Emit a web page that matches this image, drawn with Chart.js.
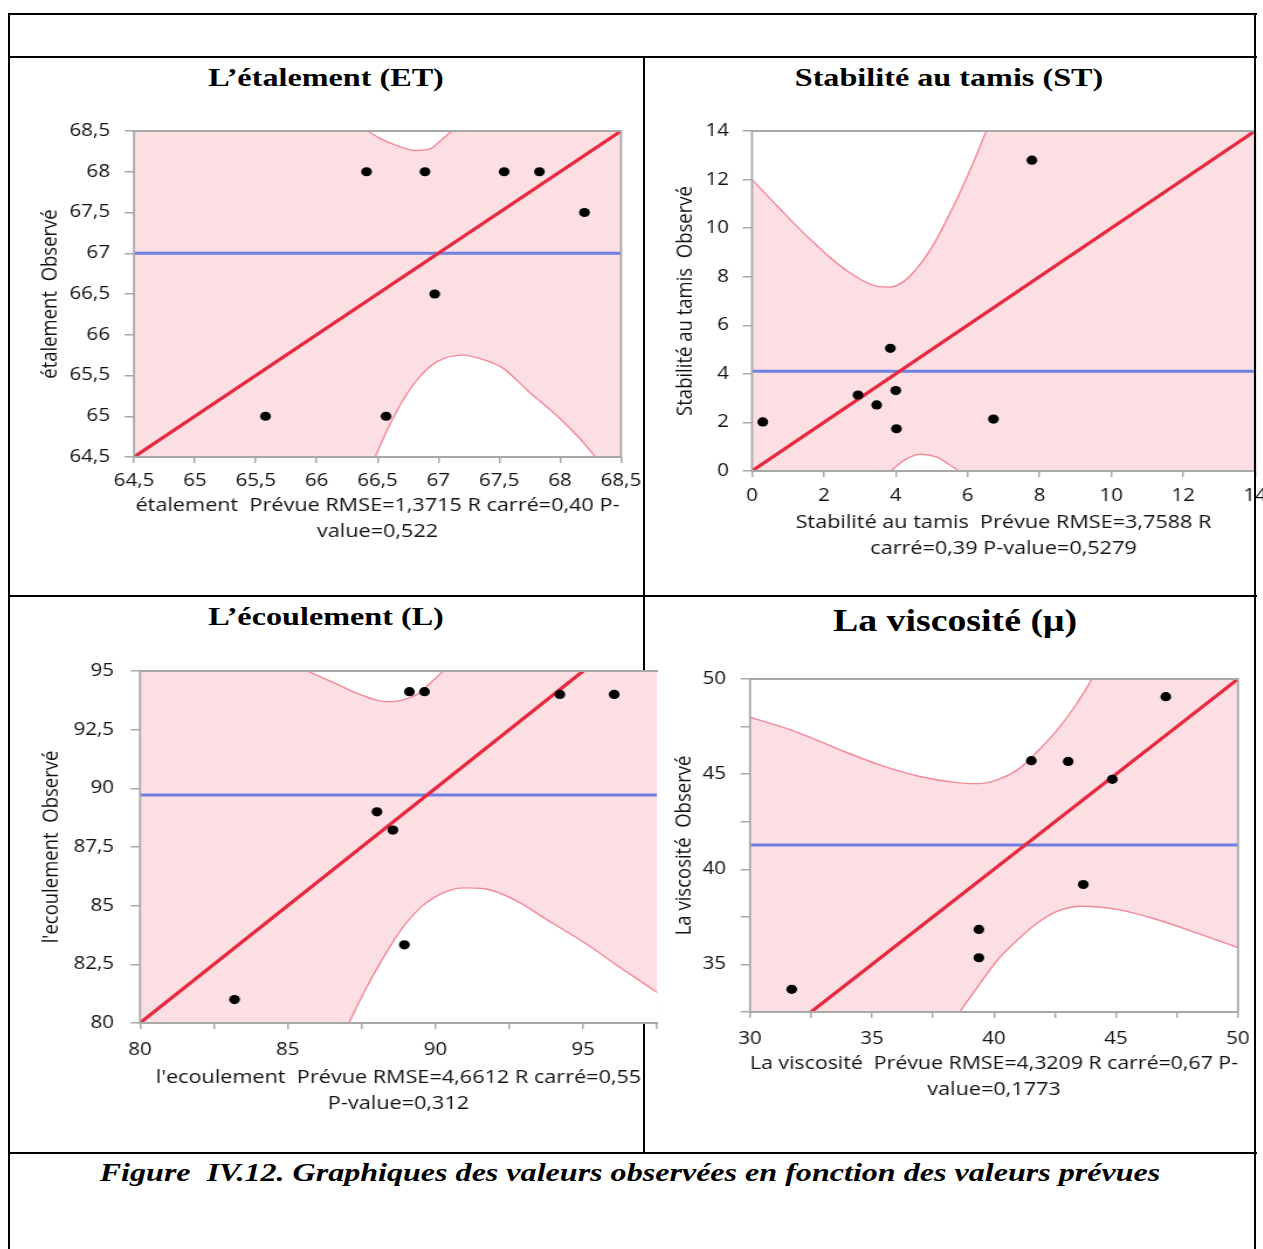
<!DOCTYPE html>
<html><head><meta charset="utf-8">
<script src="https://cdn.jsdelivr.net/npm/chart.js@4.4.1/dist/chart.umd.min.js"></script>
<style>
html,body{margin:0;padding:0;background:#fff;}
body{width:1263px;height:1249px;overflow:hidden;position:relative;}
.ln{position:absolute;background:#000;z-index:1;}
.ln.front{z-index:3;}
.ttl{position:absolute;font-family:"Liberation Serif","Times New Roman",serif;font-weight:bold;white-space:nowrap;color:#000;text-align:center;transform-origin:center center;z-index:2;}
.wrap{position:absolute;z-index:2;}
.wrap canvas{display:block;transform-origin:0 0;}
</style></head>
<body>
<div class="ln" style="left:8px;top:13px;width:1249px;height:2px"></div>
<div class="ln" style="left:8px;top:56px;width:1249px;height:2px"></div>
<div class="ln" style="left:8px;top:595px;width:1249px;height:2px"></div>
<div class="ln" style="left:8px;top:1152px;width:1249px;height:2px"></div>
<div class="ln" style="left:8px;top:13px;width:2px;height:1236px"></div>
<div class="ln" style="left:643px;top:57px;width:2px;height:1096px"></div>
<div class="ln front" style="left:1254px;top:13px;width:2px;height:1236px"></div>

<div class="ttl" style="left:26px;top:57px;width:600px;height:42px;line-height:42px;font-size:26px;transform:scaleX(1.238)">L’étalement (ET)</div>
<div class="ttl" style="left:649px;top:57px;width:600px;height:42px;line-height:42px;font-size:26px;transform:scaleX(1.238)">Stabilité au tamis (ST)</div>
<div class="ttl" style="left:26px;top:596px;width:600px;height:42px;line-height:42px;font-size:26px;transform:scaleX(1.238)">L’écoulement (L)</div>
<div class="ttl" style="left:655px;top:599px;width:600px;height:44px;line-height:44px;font-size:31px;transform:scaleX(1.22)">La viscosité (μ)</div>
<div class="ttl" style="left:30px;top:1152px;width:1200px;height:42px;line-height:42px;font-size:25px;font-style:italic;transform:scaleX(1.283)">Figure&nbsp; IV.12. Graphiques des valeurs observées en fonction des valeurs prévues</div>

<div class="wrap" id="w1"><canvas id="c1"></canvas></div>
<div class="wrap" id="w2"><canvas id="c2"></canvas></div>
<div class="wrap" id="w3"><canvas id="c3"></canvas></div>
<div class="wrap" id="w4"><canvas id="c4"></canvas></div>

<script>
// ---------- DATA ----------
// L'étalement (ET)
const etPredicted = [65.58, 66.57, 66.41, 66.89, 66.97, 67.54, 67.83, 68.20];
const etObserved  = [65.0, 65.0, 68.0, 68.0, 66.5, 68.0, 68.0, 67.5];
const etMean = [67.0];
const etFitX = [64.5, 68.5];
const etFitY = [64.5, 68.5];
const etUpperX = [66.42, 66.52, 66.66, 66.81, 66.93, 67.01, 67.11];
const etUpperY = [68.5, 68.41, 68.32, 68.26, 68.28, 68.37, 68.5];
const etLowerX = [66.48, 66.58, 66.71, 66.85, 66.99, 67.19, 67.40, 67.53, 67.73, 68.00, 68.16, 68.29];
const etLowerY = [64.5, 64.83, 65.2, 65.49, 65.67, 65.75, 65.68, 65.59, 65.32, 64.97, 64.73, 64.5];
const etXRange = [64.5, 68.5];
const etYRange = [64.5, 68.5];
const etXTicks = [64.5, 65, 65.5, 66, 66.5, 67, 67.5, 68, 68.5];
const etXLabels = ["64,5","65","65,5","66","66,5","67","67,5","68","68,5"];
const etYTicks = [64.5, 65, 65.5, 66, 66.5, 67, 67.5, 68, 68.5];
const etYLabels = ["64,5","65","65,5","66","66,5","67","67,5","68","68,5"];
const etXTitle = ["étalement  Prévue RMSE=1,3715 R carré=0,40 P-", "value=0,522"];
const etYTitle = "étalement  Observé";

// Stabilité au tamis (ST)
const stPredicted = [0.30, 2.95, 3.47, 3.85, 4.00, 4.02, 6.72, 7.79];
const stObserved  = [2.02, 3.13, 2.72, 5.05, 3.31, 1.74, 2.14, 12.80];
const stMean = [4.11];
const stFitX = [0, 14];
const stFitY = [0, 14];
const stUpperX = [0, 0.76, 1.69, 2.61, 3.54, 3.81, 4.28, 4.93, 5.58, 6.13, 6.52];
const stUpperY = [12.0, 10.82, 9.44, 8.28, 7.59, 7.57, 7.87, 9.03, 10.82, 12.6, 14.0];
const stLowerX = [3.86, 4.23, 4.69, 5.16, 5.44, 5.76];
const stLowerY = [0, 0.44, 0.69, 0.56, 0.31, 0];
const stXRange = [0, 14];
const stYRange = [0, 14];
const stXTicks = [0, 2, 4, 6, 8, 10, 12, 14];
const stXLabels = ["0","2","4","6","8","10","12","14"];
const stYTicks = [0, 2, 4, 6, 8, 10, 12, 14];
const stYLabels = ["0","2","4","6","8","10","12","14"];
const stXTitle = ["Stabilité au tamis  Prévue RMSE=3,7588 R", "carré=0,39 P-value=0,5279"];
const stYTitle = "Stabilité au tamis  Observé";

// L'écoulement (L)
const ecPredicted = [83.2, 88.02, 88.56, 88.95, 89.12, 89.63, 94.21, 96.05];
const ecObserved  = [81.0, 89.0, 88.22, 83.33, 94.12, 94.12, 94.0, 94.0];
const ecMean = [89.72];
const ecFitX = [80, 95];
const ecFitY = [80, 95];
const ecUpperX = [85.66, 86.44, 87.29, 88.0, 88.42, 88.84, 89.41, 89.9, 90.26];
const ecUpperY = [95.0, 94.57, 94.08, 93.76, 93.69, 93.75, 94.03, 94.57, 95.0];
const ecLowerX = [87.07, 87.57, 88.13, 88.84, 89.55, 90.26, 90.96, 91.67, 92.66, 93.94, 95.06, 96.19, 97.33, 97.5];
const ecLowerY = [80.0, 81.28, 82.56, 83.98, 84.98, 85.55, 85.76, 85.72, 85.26, 84.27, 83.41, 82.42, 81.45, 81.3];
const ecXRange = [80, 97.5];
const ecYRange = [80, 95];
const ecXTicks = [80, 82.5, 85, 87.5, 90, 92.5, 95, 97.5];
const ecXLabels = ["80","","85","","90","","95",""];
const ecYTicks = [80, 82.5, 85, 87.5, 90, 92.5, 95];
const ecYLabels = ["80","82,5","85","87,5","90","92,5","95"];
const ecXTitle = ["l'ecoulement  Prévue RMSE=4,6612 R carré=0,55", "P-value=0,312"];
const ecYTitle = "l'ecoulement  Observé";

// La viscosité (μ)
const viPredicted = [31.71, 39.38, 39.38, 41.53, 43.04, 43.66, 44.85, 47.04];
const viObserved  = [33.69, 36.84, 35.35, 45.71, 45.67, 39.2, 44.73, 49.07];
const viMean = [41.28];
const viFitX = [32.5, 50];
const viFitY = [32.5, 50];
const viUpperX = [30.0, 32.03, 33.66, 35.28, 36.91, 38.54, 39.35, 40.16, 40.98, 41.79, 42.6, 43.41, 44.02];
const viUpperY = [48.0, 47.16, 46.29, 45.5, 44.89, 44.54, 44.5, 44.71, 45.24, 46.2, 47.34, 48.74, 50.0];
const viLowerX = [38.59, 39.35, 40.16, 40.98, 41.79, 42.6, 43.58, 45.04, 46.67, 48.29, 50.0];
const viLowerY = [32.5, 33.86, 35.26, 36.31, 37.19, 37.8, 38.06, 37.89, 37.36, 36.66, 35.88];
const viXRange = [30, 50];
const viYRange = [32.5, 50];
const viXTicks = [30, 32.5, 35, 37.5, 40, 42.5, 45, 47.5, 50];
const viXLabels = ["30","","35","","40","","45","","50"];
const viYTicks = [32.5, 35, 37.5, 40, 42.5, 45, 47.5, 50];
const viYLabels = ["","35","","40","","45","","50"];
const viXTitle = ["La viscosité  Prévue RMSE=4,3209 R carré=0,67 P-", "value=0,1773"];
const viYTitle = "La viscosité  Observé";

// ---------- STYLE / LAYOUT ----------
const S = 1.17;               // horizontal stretch of the chart pictures
const PINK = '#fcdfe3', CURVE = '#f38896', RED = '#e8283f', BLUE = '#6f7fe2', FRAME = '#a8a8a8';
const TICK_FONT = {family: "'Open Sans', sans-serif", size: 17.5, lineHeight: 1.2};
const TITLE_FONT = {family: "'Open Sans', sans-serif", size: 18.5, lineHeight: 1.4};

const bandPlugin = {
  id: 'band',
  beforeDatasetsDraw(chart, args, opts) {
    const {ctx, chartArea: a} = chart;
    ctx.save(); ctx.fillStyle = PINK; ctx.fillRect(a.left, a.top, a.right - a.left, a.bottom - a.top); ctx.restore();
  },
  afterDatasetsDraw(chart, args, opts) {
    const {ctx, chartArea: a} = chart;
    ctx.save(); ctx.strokeStyle = FRAME; ctx.lineWidth = 1.8;
    ctx.beginPath();
    if (opts.noRight) {
      ctx.moveTo(a.right + 1, a.top); ctx.lineTo(a.left, a.top); ctx.lineTo(a.left, a.bottom); ctx.lineTo(a.right + 1, a.bottom);
    } else {
      ctx.rect(a.left, a.top, a.right - a.left, a.bottom - a.top);
    }
    ctx.stroke(); ctx.restore();
  }
};

function xy(xs, ys) { return xs.map((x, i) => ({x: x, y: ys[i]})); }

function build(id, g, d) {
  const canvas = document.getElementById(id);
  const wrap = canvas.parentElement;
  const W = Math.round(g.Ww / S);
  wrap.style.left = g.Lw + 'px'; wrap.style.top = g.Tw + 'px';
  canvas.width = W; canvas.height = g.H;
  canvas.style.width = W + 'px'; canvas.style.height = g.H + 'px';
  canvas.style.transform = 'scaleX(' + S + ')';
  const areaL = (g.L - g.Lw) / S, areaR = (g.R - g.Lw) / S;
  const padRight = W - areaR, padTop = g.T - g.Tw;
  const xAxisH = g.H - (g.B - g.Tw);
  const yTl = 8, xTl = 6;
  const tLH = TITLE_FONT.size * TITLE_FONT.lineHeight;
  const kLH = TICK_FONT.size * TICK_FONT.lineHeight;
  new Chart(canvas, {
    type: 'scatter',
    data: {
      datasets: [
        {data: xy(d.px, d.py), showLine: false, pointRadius: 4.6, pointHoverRadius: 4.6, pointBackgroundColor: '#000', pointBorderWidth: 0, order: 1, clip: false},
        {data: xy(d.fitX, d.fitY), showLine: true, borderColor: RED, borderWidth: 3.2, pointRadius: 0, fill: false, order: 2, clip: 0},
        {data: [{x: d.xr[0], y: d.mean[0]}, {x: d.xr[1], y: d.mean[0]}], showLine: true, borderColor: BLUE, borderWidth: 3, pointRadius: 0, fill: false, order: 3, clip: 0},
        {data: xy(d.ux, d.uy), showLine: true, borderColor: CURVE, borderWidth: 1.4, pointRadius: 0, fill: 'end', backgroundColor: '#ffffff', cubicInterpolationMode: 'monotone', order: 5, clip: 0},
        {data: xy(d.lx, d.ly), showLine: true, borderColor: CURVE, borderWidth: 1.4, pointRadius: 0, fill: 'start', backgroundColor: '#ffffff', cubicInterpolationMode: 'monotone', order: 5, clip: 0}
      ]
    },
    options: {
      responsive: false, animation: false, devicePixelRatio: 1,
      layout: {padding: {left: 0, top: padTop, right: padRight, bottom: 0}},
      plugins: {legend: {display: false}, tooltip: {enabled: false}, band: {noRight: !!g.noRight}},
      scales: {
        x: {
          type: 'linear', position: 'bottom', min: d.xr[0], max: d.xr[1],
          afterBuildTicks: (s) => { s.ticks = d.xt.map(v => ({value: v})); },
          afterFit: (s) => { s.height = xAxisH; s.paddingLeft = 0; s.paddingRight = 0; },
          ticks: {autoSkip: false, maxRotation: 0, color: '#111', font: TICK_FONT, padding: g.xGap - xTl - kLH / 2,
                  callback: (v, i) => d.xl[i]},
          grid: {drawOnChartArea: false, drawTicks: true, tickLength: xTl, color: FRAME, lineWidth: 1.5},
          border: {display: false},
          title: {display: true, text: d.xTitle, color: '#111', font: TITLE_FONT,
                  padding: {top: 0, bottom: (g.Tw + g.H - g.xTitleY) - tLH / 2}}
        },
        y: {
          type: 'linear', position: 'left', min: d.yr[0], max: d.yr[1],
          afterBuildTicks: (s) => { s.ticks = d.yt.map(v => ({value: v})); },
          afterFit: (s) => { s.width = areaL; s.paddingTop = 0; s.paddingBottom = 0; },
          ticks: {autoSkip: false, color: '#111', font: TICK_FONT, padding: g.yGap / S - yTl,
                  callback: (v, i) => d.yl[i]},
          grid: {drawOnChartArea: false, drawTicks: true, tickLength: yTl, color: FRAME, lineWidth: 1.5},
          border: {display: false},
          title: {display: true, text: d.yTitle, color: '#111', font: TITLE_FONT,
                  padding: {top: (g.yTitleX - g.Lw) / S - tLH / 2, bottom: 0}}
        }
      }
    },
    plugins: [bandPlugin]
  });
}

build('c1', {Lw: 18, Tw: 105, Ww: 632, H: 445, L: 134, R: 621, T: 131, B: 457, yTitleX: 50, xTitleY: 532, xGap: 24, yGap: 24},
  {px: etPredicted, py: etObserved, mean: etMean, fitX: etFitX, fitY: etFitY, ux: etUpperX, uy: etUpperY, lx: etLowerX, ly: etLowerY,
   xr: etXRange, yr: etYRange, xt: etXTicks, xl: etXLabels, yt: etYTicks, yl: etYLabels, xTitle: etXTitle, yTitle: etYTitle});

build('c2', {Lw: 652, Tw: 105, Ww: 625, H: 475, L: 752, R: 1255, T: 131, B: 471, yTitleX: 686, xTitleY: 549, xGap: 25, yGap: 23},
  {px: stPredicted, py: stObserved, mean: stMean, fitX: stFitX, fitY: stFitY, ux: stUpperX, uy: stUpperY, lx: stLowerX, ly: stLowerY,
   xr: stXRange, yr: stYRange, xt: stXTicks, xl: stXLabels, yt: stYTicks, yl: stYLabels, xTitle: stXTitle, yTitle: stYTitle});

build('c3', {Lw: 18, Tw: 645, Ww: 645, H: 470, L: 140, R: 657, T: 671, B: 1023, yTitleX: 52, xTitleY: 1104, xGap: 27, yGap: 26, noRight: true},
  {px: ecPredicted, py: ecObserved, mean: ecMean, fitX: ecFitX, fitY: ecFitY, ux: ecUpperX, uy: ecUpperY, lx: ecLowerX, ly: ecLowerY,
   xr: ecXRange, yr: ecYRange, xt: ecXTicks, xl: ecXLabels, yt: ecYTicks, yl: ecYLabels, xTitle: ecXTitle, yTitle: ecYTitle});

build('c4', {Lw: 652, Tw: 645, Ww: 606, H: 460, L: 750, R: 1238, T: 679, B: 1012, yTitleX: 685, xTitleY: 1090, xGap: 27, yGap: 24},
  {px: viPredicted, py: viObserved, mean: viMean, fitX: viFitX, fitY: viFitY, ux: viUpperX, uy: viUpperY, lx: viLowerX, ly: viLowerY,
   xr: viXRange, yr: viYRange, xt: viXTicks, xl: viXLabels, yt: viYTicks, yl: viYLabels, xTitle: viXTitle, yTitle: viYTitle});
</script>
</body></html>
